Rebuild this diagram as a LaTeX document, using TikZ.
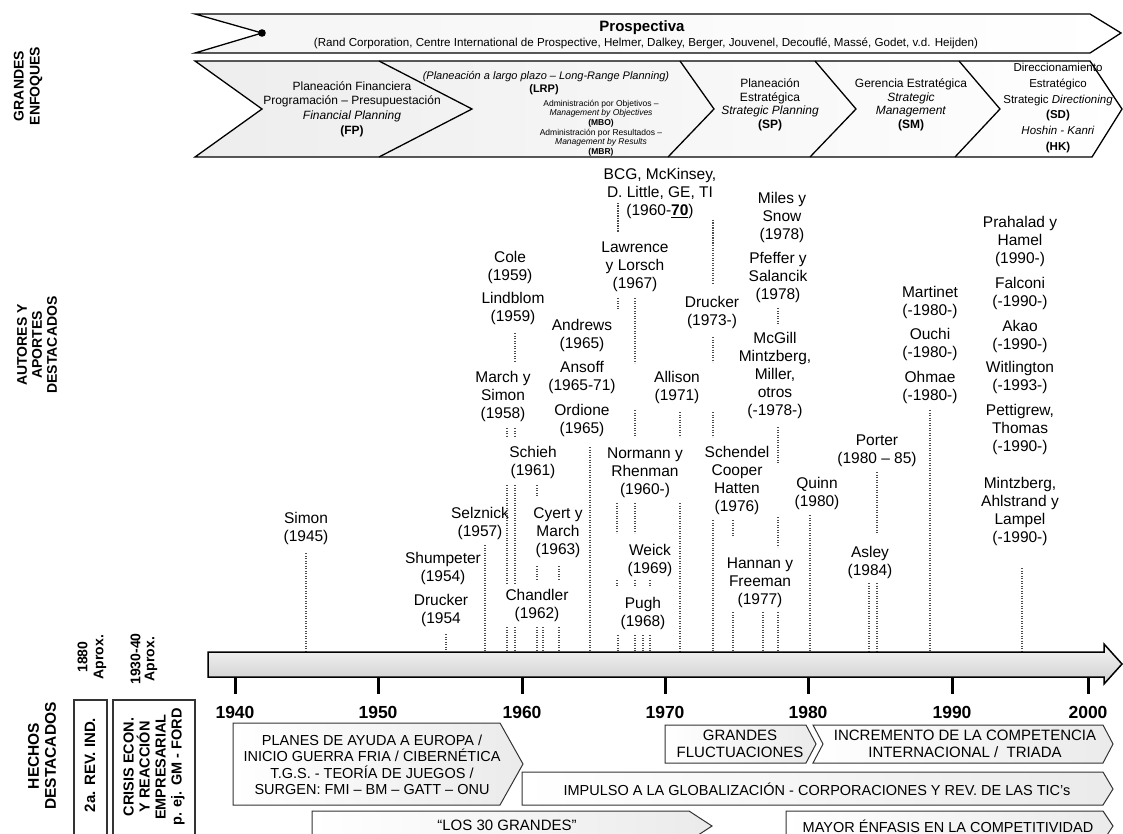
\documentclass[tikz,border=0pt]{standalone}
\usepackage{fontspec}
\setmainfont{Liberation Sans}
\usetikzlibrary{calc}

\begin{document}
\begin{tikzpicture}[x=1pt,y=-1pt,
  outline/.style={draw=black, line width=1.3pt, line join=miter},
  band/.style={outline, left color=gray!14, right color=white},
  aut/.style={font=\fontsize{15.5}{18}\selectfont, align=center, inner sep=0pt, anchor=north},
  lead/.style={draw=black!70, line width=1.3pt, dash pattern=on 1.4pt off 1.1pt},
  chev/.style={font=\fontsize{12}{14}\selectfont, align=center, inner sep=0pt},
  small/.style={font=\fontsize{8.5}{9.6}\selectfont, align=center, inner sep=0pt},
  evt/.style={draw=black!80, line width=1pt, left color=white, right color=gray!16},
  evtxt/.style={font=\fontsize{15}{16.5}\selectfont, align=center, inner sep=0pt},
  yr/.style={font=\bfseries\fontsize{17.5}{18}\selectfont, inner sep=0pt},
  tick/.style={line width=3pt},
  sect/.style={font=\bfseries\fontsize{14}{16}\selectfont, align=center, rotate=90, inner sep=0pt},
  vbox/.style={draw=black!80, line width=1.2pt},
  vtxt/.style={font=\bfseries\fontsize{15}{16.5}\selectfont, align=center, rotate=90, inner sep=0pt}
]
\useasboundingbox (0,0) rectangle (1123,834);
\clip (0,0) rectangle (1123,834);

% ---------------- section titles (left margin) ----------------
\node[sect] (tEnf) at (28,86) {GRANDES\\ENFOQUES};
\node[sect, font=\bfseries\fontsize{14}{15}\selectfont] (tAut) at (37,345) {AUTORES Y\\APORTES\\DESTACADOS};
\node[sect, font=\bfseries\fontsize{15.5}{17}\selectfont] (tHec) at (42,756) {HECHOS\\DESTACADOS};

% ---------------- band 1: Prospectiva ----------------
\path[band, left color=gray!8] (195,14) -- (1090,14) -- (1121,33) -- (1090,53) -- (195,53) -- (262,33) -- cycle;
\fill (262,33) circle[radius=3.8];
\node[font=\bfseries\fontsize{15}{16}\selectfont, inner sep=0] (pros) at (642,28) {Prospectiva};
\node[font=\fontsize{11.6}{13}\selectfont, inner sep=0] (prosSub) at (646,43)
  {(Rand Corporation, Centre International de Prospective, Helmer, Dalkey, Berger, Jouvenel, Decouflé, Massé, Godet, v.d. Heijden)};

% ---------------- band 2: chevrons ----------------
\path[band] (195,61) -- (1090,61) -- (1122,109) -- (1092,157) -- (195,157) -- (262,109) -- cycle;
\draw[outline] (379,61) -- (472,109) -- (379,157);
\draw[outline] (680,61) -- (714,109) -- (668,157);
\draw[outline] (815,61) -- (856,109) -- (810,157);
\draw[outline] (959,61) -- (1000,109) -- (955,157);

\node[chev, font=\fontsize{12}{14.7}\selectfont] (fp) at (352,109)
  {Planeación Financiera\\Programación – Presupuestación\\\textit{Financial Planning}\\\textbf{(FP)}};
\node[chev, font=\itshape\fontsize{11}{12}\selectfont] (lrpA) at (546,77)
  {(Planeación a largo plazo – Long-Range Planning)};
\node[chev, font=\bfseries\fontsize{11}{12}\selectfont] (lrpB) at (544,90) {(LRP)};
\node[small] (lrpC) at (601,128)
  {Administración por Objetivos –\\\textit{Management by Objectives}\\\textbf{(MBO)}\\
   Administración por Resultados –\\\textit{Management by Results}\\\textbf{(MBR)}};
\node[chev, font=\fontsize{12}{13.5}\selectfont] (sp) at (770,105)
  {Planeación\\Estratégica\\\textit{Strategic Planning}\\\textbf{(SP)}};
\node[chev, font=\fontsize{12}{13.5}\selectfont] (sm) at (911,105)
  {Gerencia Estratégica\\\textit{Strategic}\\\textit{Management}\\\textbf{(SM)}};
\node[chev, font=\fontsize{11.5}{15.8}\selectfont] (sd) at (1058,108)
  {Direccionamiento\\Estratégico\\Strategic \textit{Directioning}\\\textbf{(SD)}\\\textit{Hoshin - Kanri}\\\textbf{(HK)}};

% ---------------- authors ----------------
\node[aut] (simon)    at (306,511) {\strut Simon\\(1945)};
\node[aut] (shump)    at (443,551) {\strut Shumpeter\\(1954)};
\node[aut] (druckA)   at (441,593) {\strut Drucker\\(1954};
\node[aut] (selz)     at (480,506) {\strut Selznick\\(1957)};
\node[aut] (cole)     at (510,250) {\strut Cole\\(1959)};
\node[aut] (lindb)    at (513,291) {\strut Lindblom\\(1959)};
\node[aut] (march)    at (503,370) {\strut March y\\Simon\\(1958)};
\node[aut] (schieh)   at (533,445) {\strut Schieh\\(1961)};
\node[aut] (cyert)    at (558,506) {\strut Cyert y\\March\\(1963)};
\node[aut] (chand)    at (537,588) {\strut Chandler\\(1962)};
\node[aut] (andrews)  at (582,318) {\strut Andrews\\(1965)};
\node[aut] (ansoff)   at (582,360) {\strut Ansoff\\(1965-71)};
\node[aut] (ordione)  at (582,403) {\strut Ordione\\(1965)};
\node[aut] (bcg)      at (660,167) {\strut BCG, McKinsey,\\D. Little, GE, TI\\(1960-\underline{\textbf{70}})};
\node[aut] (lawr)     at (635,240) {\strut Lawrence\\y Lorsch\\(1967)};
\node[aut] (normann)  at (645,446) {\strut Normann y\\Rhenman\\(1960-)};
\node[aut] (weick)    at (650,543) {\strut Weick\\(1969)};
\node[aut] (pugh)     at (643,596) {\strut Pugh\\(1968)};
\node[aut] (allison)  at (677,370) {\strut Allison\\(1971)};
\node[aut] (druckB)   at (712,295) {\strut Drucker\\(1973-)};
\node[aut] (miles)    at (782,191) {\strut Miles y\\Snow\\(1978)};
\node[aut] (pfeffer)  at (778,251) {\strut Pfeffer y\\Salancik\\(1978)};
\node[aut] (mcgill)   at (775,331) {\strut McGill\\Mintzberg,\\Miller,\\otros\\(-1978-)};
\node[aut] (schendel) at (737,445) {\strut Schendel\\Cooper\\Hatten\\(1976)};
\node[aut] (hannan)   at (760,556) {\strut Hannan y\\Freeman\\(1977)};
\node[aut] (quinn)    at (817,476) {\strut Quinn\\(1980)};
\node[aut] (porter)   at (877,433) {\strut Porter\\(1980 – 85)};
\node[aut] (asley)    at (870,545) {\strut Asley\\(1984)};
\node[aut] (martinet) at (930,285) {\strut Martinet\\(-1980-)};
\node[aut] (ouchi)    at (930,327) {\strut Ouchi\\(-1980-)};
\node[aut] (ohmae)    at (930,370) {\strut Ohmae\\(-1980-)};
\node[aut] (prahalad) at (1020,215) {\strut Prahalad y\\Hamel\\(1990-)};
\node[aut] (falconi)  at (1020,276) {\strut Falconi\\(-1990-)};
\node[aut] (akao)     at (1020,319) {\strut Akao\\(-1990-)};
\node[aut] (witl)     at (1020,360) {\strut Witlington\\(-1993-)};
\node[aut] (pettig)   at (1020,403) {\strut Pettigrew,\\Thomas\\(-1990-)};
\node[aut] (mintzB)   at (1020,476) {\strut Mintzberg,\\Ahlstrand y\\Lampel\\(-1990-)};

% ---------------- dashed leader lines down to the time axis ----------------
\foreach \x/\a/\b in {
  306/553/652, 446/634/652, 485/545/652,
  515/333/362, 507/428/437, 515/428/437,
  507/485/583, 515/485/583, 537/485/497,
  537/566/580, 559/566/580,
  507/627/652, 515/627/652, 537/627/652, 543/627/652, 559/627/652,
  590/447/652,
  618/203/232, 713/220/283,
  618/298/310, 635/298/363, 635/410/437,
  617/503/533, 635/503/533,
  617/580/586, 635/580/586, 650/580/586,
  618/635/652, 635/635/652, 643/635/652, 650/635/652,
  680/412/437, 680/503/652,
  713/337/362, 713/412/437, 713/520/652,
  733/520/537, 733/612/652, 763/612/652,
  778/308/325, 778/427/463, 778/517/547, 778/612/652,
  810/515/652, 877/472/533, 869/583/652, 877/583/652,
  930/410/652, 1022/568/652}
  \draw[lead] (\x,\a) -- (\x,\b);

% ---------------- time axis ----------------
\path[outline, line width=1.5pt, top color=gray!8, bottom color=gray!38]
  (208,652) -- (1104,652) -- (1104,644) -- (1122,664) -- (1104,684) -- (1104,677) -- (208,677) -- cycle;
\foreach \x/\yy in {235/1940, 378/1950, 522/1960, 665/1970, 808/1980, 952/1990, 1088/2000} {
  \draw[tick] (\x,678) -- (\x,694);
  \node[yr] (y\yy) at (\x,712) {\yy};
}

% ---------------- early events (rotated boxes) ----------------
\node[font=\bfseries\fontsize{14}{16}\selectfont, align=center, rotate=90, inner sep=0] (d1880) at (92,657) {1880\\Aprox.};
\node[font=\bfseries\fontsize{14}{14}\selectfont, align=center, rotate=90, inner sep=0] (d1930) at (144,659) {1930-40\\Aprox.};
\draw[vbox] (74,700) rectangle (107,850);
\draw[vbox] (113,700) rectangle (195,850);
\node[vtxt] (revind) at (90,765) {2a. REV. IND.};
\node[vtxt, font=\bfseries\fontsize{14.5}{16}\selectfont] (crisis) at (154,767) {CRISIS ECON.\\Y REACCIÓN\\EMPRESARIAL\\p. ej. GM - FORD};

% ---------------- later events (arrow boxes) ----------------
\path[evt] (233,723) -- (500,723) -- (523,764) -- (500,805) -- (233,805) -- cycle;
\node[evtxt, font=\fontsize{14.5}{16.5}\selectfont] (planes) at (372,765)
  {PLANES DE AYUDA A EUROPA /\\INICIO GUERRA FRIA / CIBERNÉTICA\\T.G.S. - TEORÍA DE JUEGOS /\\SURGEN: FMI – BM – GATT – ONU};
\path[evt] (522,772) -- (1103,772) -- (1113,789) -- (1103,805) -- (522,805) -- cycle;
\node[evtxt, font=\fontsize{14.5}{16}\selectfont] (glob) at (817,789)
  {IMPULSO A LA GLOBALIZACIÓN - CORPORACIONES Y REV. DE LAS TIC's};
\path[evt] (665,725) -- (806,725) -- (816,744) -- (806,763) -- (665,763) -- cycle;
\node[evtxt] (fluct) at (740,744) {GRANDES\\FLUCTUACIONES};
\path[evt] (813,725) -- (1103,725) -- (1113,744) -- (1103,763) -- (813,763) -- (823,744) -- cycle;
\node[evtxt] (compet) at (965,744) {INCREMENTO DE LA COMPETENCIA\\INTERNACIONAL /\ \ TRIADA};
\path[evt] (312,811) -- (689,811) -- (712,826) -- (689,841) -- (312,841) -- cycle;
\node[evtxt] (treinta) at (507,825) {“LOS 30 GRANDES”};
\path[evt] (786,811) -- (1103,811) -- (1113,826) -- (1103,841) -- (786,841) -- cycle;
\node[evtxt, font=\fontsize{14.5}{16}\selectfont] (enfasis) at (948,826) {MAYOR ÉNFASIS EN LA COMPETITIVIDAD};
\end{tikzpicture}
\end{document}
